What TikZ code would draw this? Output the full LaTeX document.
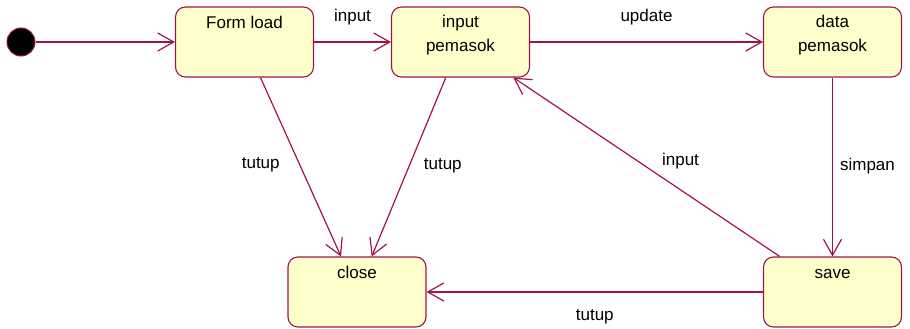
\documentclass[tikz,border=0pt]{standalone}
\usepackage{fontspec}
\setmainfont{Liberation Sans}
\usetikzlibrary{arrows.meta}
\definecolor{lineC}{HTML}{A0144B}
\definecolor{fillC}{HTML}{FFFFCC}
\begin{document}
\begin{tikzpicture}[x=1pt,y=-1pt,
  every node/.style={font=\fontsize{17}{24}\selectfont},
  statebox/.style={draw=lineC, fill=fillC, line width=1.1pt, rounded corners=10pt,
    minimum width=138pt, minimum height=70pt, inner sep=0pt},
  stxt/.style={anchor=north, align=center, inner sep=0pt, yshift=-8.5pt,
    execute at begin node={\rule{0pt}{13pt}}},
  conn/.style={draw=lineC, line width=1.2pt, -{Straight Barb[length=16pt,width=18pt]}},
  lab/.style={inner sep=0pt, text=black}]
\useasboundingbox (0,0) rectangle (910,329);
\node[circle, draw=lineC, fill=black, line width=1pt, minimum size=28pt, inner sep=0pt] (start) at (21,42) {};
\node[statebox] (fl) at (244.5,42) {};
\node[stxt] (flt) at (fl.north) {Form load};
\node[statebox] (ip) at (460.5,42) {};
\node[stxt] (ipt) at (ip.north) {input\\pemasok};
\node[statebox] (dp) at (832.5,42) {};
\node[stxt] (dpt) at (dp.north) {data\\pemasok};
\node[statebox] (cl) at (357,292) {};
\node[stxt] (clt) at (cl.north) {close};
\node[statebox] (sv) at (832.5,292) {};
\node[stxt] (svt) at (sv.north) {save};

\draw[conn] (start) -- (fl);
\draw[conn] (fl) -- node[lab, midway, yshift=25pt] (l1) {input} (ip);
\draw[conn] (ip) -- node[lab, midway, yshift=25pt] (l2) {update} (dp);
\draw[conn] (dp) -- node[lab, midway, xshift=35pt, yshift=1pt] (l3) {simpan} (sv);
\draw[conn] (sv) -- node[lab, midway, xshift=34pt, yshift=6pt] (l4) {input} (ip);
\draw[conn] (fl) -- node[lab, midway, xshift=-40pt, yshift=2pt] (l5) {tutup} (cl);
\draw[conn] (ip) -- node[lab, midway, xshift=34pt, yshift=1pt] (l6) {tutup} (cl);
\draw[conn] (sv) -- node[lab, midway, yshift=-25pt] (l7) {tutup} (cl);
\end{tikzpicture}
\end{document}
